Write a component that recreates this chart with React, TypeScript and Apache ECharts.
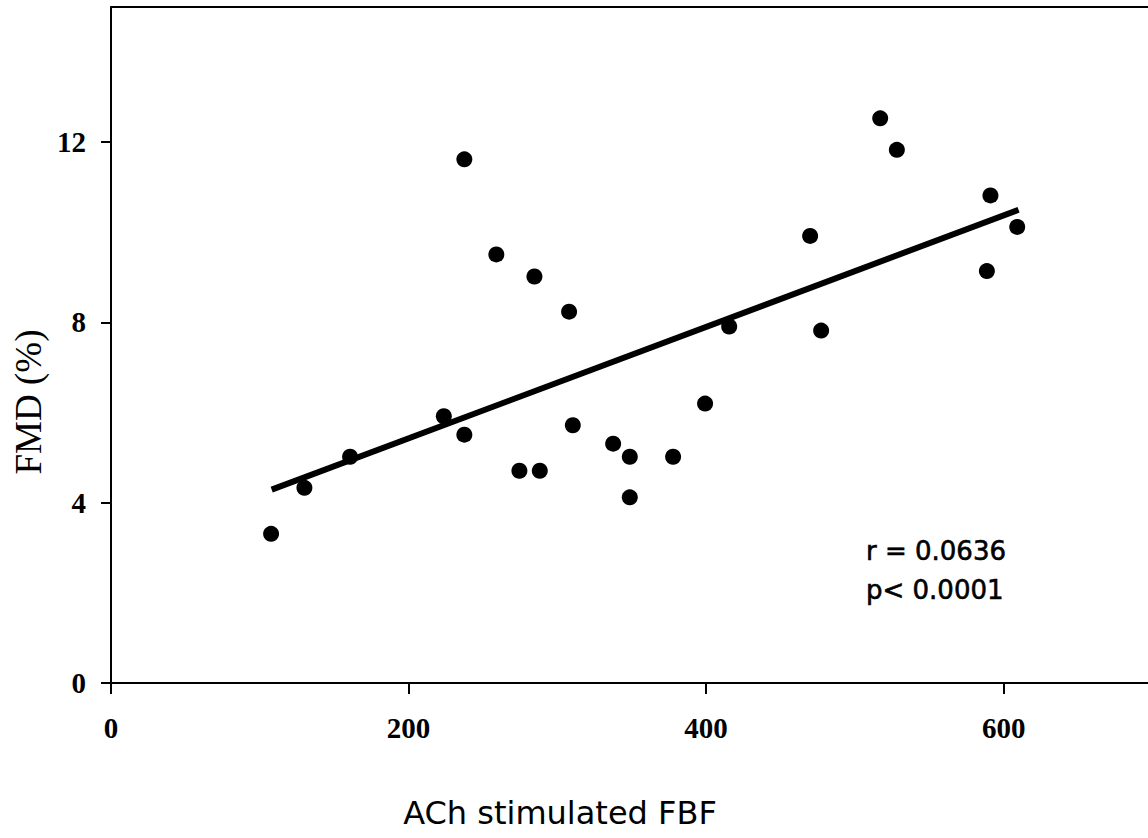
import React, { useEffect, useRef } from "react";
import * as echarts from "echarts";

const achFBF = [107.6, 130.0, 160.7, 223.7, 237.5, 237.5, 259.0, 274.5, 284.6, 288.2, 307.9, 310.4, 337.5, 348.7, 348.7, 377.8, 399.3, 415.5, 469.9, 477.3, 517.0, 528.2, 588.7, 591.1, 609.1];
const fmd = [3.31, 4.33, 5.02, 5.92, 11.62, 5.51, 9.51, 4.71, 9.02, 4.71, 8.24, 5.72, 5.31, 5.02, 4.12, 5.02, 6.2, 7.91, 9.92, 7.82, 12.53, 11.83, 9.14, 10.82, 10.12];
const fitX = [108, 610];
const fitY = [4.29, 10.5];
const xTicks = [0, 200, 400, 600];
const yTicks = [0, 4, 8, 12];
const xAxisName = "ACh stimulated FBF";
const yAxisName = "FMD (%)";
const statLines = ["r = 0.0636", "p< 0.0001"];

export default function App() {
  const ref = useRef<HTMLDivElement>(null);
  useEffect(() => {
    document.body.style.margin = "0";
    const chart = echarts.init(ref.current!, null, { renderer: "svg" });
    const serif = "'Liberation Serif', 'Times New Roman', serif";
    const sans = "'DejaVu Sans', Verdana, sans-serif";
    const axisLine = { show: true, lineStyle: { color: "#000", width: 2 } };
    chart.setOption({
      animation: false,
      backgroundColor: "#fff",
      grid: { left: 111, right: 0, top: 7, bottom: 838 - 683, containLabel: false },
      xAxis: [
        {
          type: "value",
          min: 0,
          max: 697,
          interval: 200,
          axisLine: { ...axisLine, onZero: false },
          splitLine: { show: false },
          axisTick: { show: true, inside: false, length: 11, lineStyle: { color: "#000", width: 2 }, customValues: xTicks },
          axisLabel: {
            customValues: xTicks,
            margin: 30,
            fontFamily: serif,
            fontWeight: "bold",
            fontSize: 29,
            color: "#000",
          },
        },
        {
          type: "value",
          position: "top",
          min: 0,
          max: 697,
          axisLine: { ...axisLine, onZero: false },
          axisTick: { show: false },
          axisLabel: { show: false },
          splitLine: { show: false },
        },
      ],
      yAxis: {
        type: "value",
        min: 0,
        max: 15,
        interval: 4,
        axisLine: { ...axisLine, onZero: false },
        splitLine: { show: false },
        axisTick: { show: true, inside: false, length: 10, lineStyle: { color: "#000", width: 2 }, customValues: yTicks },
        axisLabel: {
          customValues: yTicks,
          margin: 25,
          fontFamily: serif,
          fontWeight: "bold",
          fontSize: 29,
          color: "#000",
        },
      },
      graphic: [
        {
          type: "text",
          x: 560,
          y: 813,
          style: {
            text: xAxisName,
            fontFamily: sans,
            fontSize: 32,
            fill: "#000",
            align: "center",
            verticalAlign: "middle",
          },
        },
        {
          type: "text",
          x: 28,
          y: 402,
          rotation: Math.PI / 2,
          style: {
            text: yAxisName,
            fontFamily: serif,
            fontSize: 37,
            fill: "#000",
            align: "center",
            verticalAlign: "middle",
          },
        },
        {
          type: "text",
          x: 866,
          y: 551,
          style: {
            text: statLines[0],
            fontFamily: sans,
            fontSize: 26,
            fill: "#000",
            stroke: "#000",
            lineWidth: 0.6,
            align: "left",
            verticalAlign: "middle",
          },
        },
        {
          type: "text",
          x: 866,
          y: 590,
          style: {
            text: statLines[1],
            fontFamily: sans,
            fontSize: 26,
            fill: "#000",
            stroke: "#000",
            lineWidth: 0.6,
            align: "left",
            verticalAlign: "middle",
          },
        },
      ],
      series: [
        {
          type: "line",
          data: fitX.map((x, i) => [x, fitY[i]]),
          showSymbol: false,
          symbol: "none",
          lineStyle: { color: "#000", width: 6 },
          z: 2,
        },
        {
          type: "scatter",
          data: achFBF.map((x, i) => [x, fmd[i]]),
          symbol: "circle",
          symbolSize: 16,
          itemStyle: { color: "#000", opacity: 1 },
          z: 3,
        },
      ],
    });
    return () => chart.dispose();
  }, []);
  return <div ref={ref} style={{ width: 1148, height: 838 }} />;
}
